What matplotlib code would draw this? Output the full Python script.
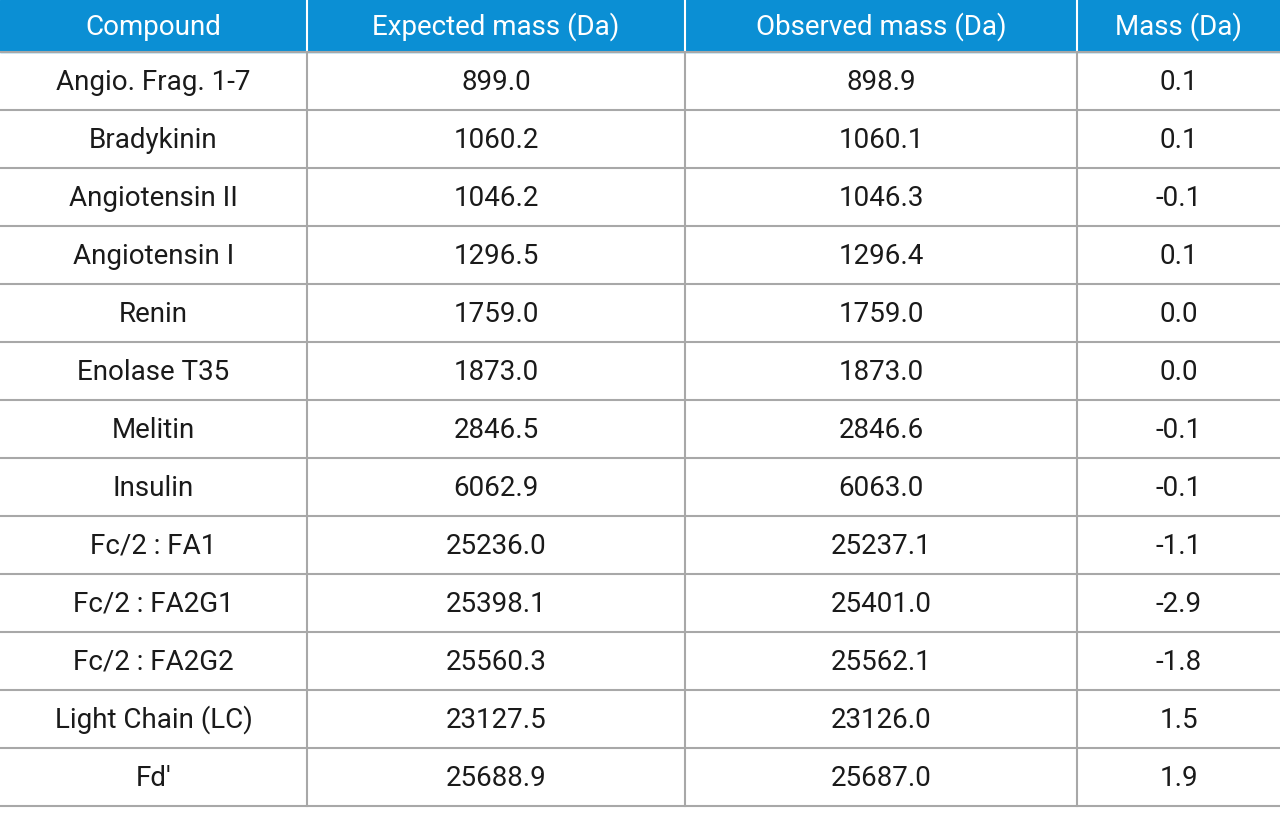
import matplotlib
matplotlib.use("Agg")
import matplotlib.pyplot as plt
from matplotlib.patches import Rectangle

headers = ["Compound", "Expected mass (Da)", "Observed mass (Da)", "Mass (Da)"]
compounds = ["Angio. Frag. 1-7", "Bradykinin", "Angiotensin II", "Angiotensin I", "Renin",
             "Enolase T35", "Melitin", "Insulin", "Fc/2 : FA1", "Fc/2 : FA2G1",
             "Fc/2 : FA2G2", "Light Chain (LC)", "Fd\u2032"]
expected = ["899.0", "1060.2", "1046.2", "1296.5", "1759.0", "1873.0", "2846.5", "6062.9",
            "25236.0", "25398.1", "25560.3", "23127.5", "25688.9"]
observed = ["898.9", "1060.1", "1046.3", "1296.4", "1759.0", "1873.0", "2846.6", "6063.0",
            "25237.1", "25401.0", "25562.1", "23126.0", "25687.0"]
delta = ["0.1", "0.1", "-0.1", "0.1", "0.0", "0.0", "-0.1", "-0.1", "-1.1", "-2.9",
         "-1.8", "1.5", "1.9"]

W, H = 1280, 817
fig = plt.figure(figsize=(12.8, 8.17), dpi=100)
ax = fig.add_axes([0, 0, 1, 1])
ax.set_xlim(0, W); ax.set_ylim(H, 0); ax.axis("off")

cols = [0, 307, 685, 1077, 1280]
hdr_h = 52
row_h = 58
blue = "#0b8fd4"
grid = "#a8a8a8"
plt.rcParams["font.family"] = ["Roboto", "DejaVu Sans"]

ax.add_patch(Rectangle((0, 0), W, hdr_h, color=blue, zorder=1))
for i, h in enumerate(headers):
    cx = (cols[i] + cols[i + 1]) / 2
    ax.text(cx, hdr_h / 2 + 1, h, color="white", fontsize=20, ha="center", va="center",
            family=["Roboto", "DejaVu Sans"])
for x in cols[1:-1]:
    ax.plot([x, x], [0, hdr_h], color="white", lw=1.5, zorder=2)

n = len(compounds)
bottom = hdr_h + n * row_h
for r in range(n + 1):
    y = hdr_h + r * row_h
    ax.plot([0, W], [y, y], color=grid, lw=1.5, zorder=2)
for x in cols[1:-1]:
    ax.plot([x, x], [hdr_h, bottom], color=grid, lw=1.5, zorder=2)

for r in range(n):
    cy = hdr_h + r * row_h + row_h / 2
    for i, v in enumerate([compounds[r], expected[r], observed[r], delta[r]]):
        cx = (cols[i] + cols[i + 1]) / 2
        ax.text(cx, cy + 1, v, color="#1a1a1a", fontsize=20, ha="center", va="center",
                family=["Roboto", "DejaVu Sans"])

fig.savefig("out.png", dpi=100, facecolor="white")
